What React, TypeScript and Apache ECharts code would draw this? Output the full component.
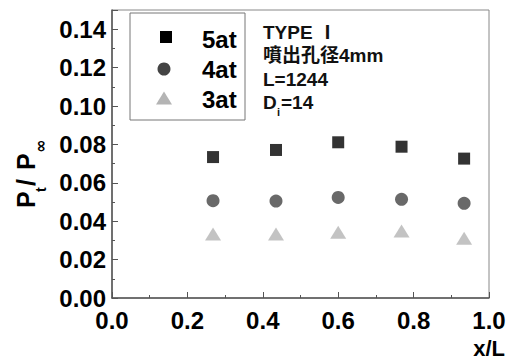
import React, { useEffect, useRef } from "react";
import * as echarts from "echarts";

const xPositions = [0.268, 0.435, 0.6, 0.768, 0.934];
const p5at = [0.0734, 0.0771, 0.0811, 0.0788, 0.0726];
const p4at = [0.0507, 0.0505, 0.0524, 0.0514, 0.0493];
const p3at = [0.0333, 0.0333, 0.0342, 0.0349, 0.0311];
const seriesNames = ["5at", "4at", "3at"];
const annotationLines = ["TYPE Ⅰ", "噴出孔径4mm", "L=1244"];
const annotationDi = "14";

const FONT = "'Liberation Sans', Arial, 'Noto Sans CJK JP', sans-serif";

export default function App() {
  const ref = useRef<HTMLDivElement>(null);
  useEffect(() => {
    if (!ref.current) return;
    const chart = echarts.init(ref.current, null, { renderer: "svg" });
    const pts = (ys: number[]) => xPositions.map((x, i) => [x, ys[i]]);
    const labelStyle = { color: "#000", fontSize: 24, fontWeight: "bold" as const, fontFamily: FONT };
    const ann = (text: string, x: number, y: number, size: number) => ({
      type: "text", x, y, z: 11,
      style: { text, fill: "#111", font: `bold ${size}px ${FONT}`, verticalAlign: "middle", align: "left", lineHeight: size },
    });
    chart.setOption({
      animation: false,
      backgroundColor: "#fff",
      grid: { left: 112, right: 26, top: 10, bottom: 62, show: true, borderColor: "#888", borderWidth: 1 },
      xAxis: {
        type: "value",
        min: 0,
        max: 1,
        interval: 0.2,
        axisLine: { show: true, lineStyle: { color: "#555", width: 1.5 } },
        axisTick: { show: true, inside: true, length: 6, lineStyle: { color: "#555" } },
        minorTick: { show: true, splitNumber: 2, length: 3, lineStyle: { color: "#555" } },
        splitLine: { show: false },
        axisLabel: { ...labelStyle, margin: 10, formatter: (v: number) => v.toFixed(1) },
      },
      yAxis: {
        type: "value",
        min: 0,
        max: 0.15,
        interval: 0.02,
        axisLine: { show: true, lineStyle: { color: "#555", width: 1.5 } },
        axisTick: { show: true, inside: true, length: 6, lineStyle: { color: "#555" } },
        minorTick: { show: true, splitNumber: 2, length: 3, lineStyle: { color: "#555" } },
        splitLine: { show: false },
        axisLabel: { ...labelStyle, margin: 6, showMaxLabel: false, formatter: (v: number) => v.toFixed(2) },
      },
      series: [
        { name: seriesNames[0], type: "scatter", symbol: "rect", symbolSize: 12, itemStyle: { color: "#000" }, data: pts(p5at) },
        { name: seriesNames[1], type: "scatter", symbol: "circle", symbolSize: 13, itemStyle: { color: "#444" }, data: pts(p4at) },
        { name: seriesNames[2], type: "scatter", symbol: "triangle", symbolSize: [16, 13], itemStyle: { color: "#b4b4b4" }, data: pts(p3at) },
      ],
      graphic: [
        { type: "rect", shape: { x: 130, y: 13, width: 115, height: 107 }, style: { fill: "#fff", stroke: "#777", lineWidth: 1 }, z: 10 },
        { type: "rect", shape: { x: 160, y: 31, width: 12, height: 12 }, style: { fill: "#000" }, z: 11 },
        { type: "circle", shape: { cx: 164, cy: 69, r: 6.5 }, style: { fill: "#444" }, z: 11 },
        { type: "polygon", shape: { points: [[164, 91.5], [172, 104.5], [156, 104.5]] }, style: { fill: "#b4b4b4" }, z: 11 },
        ...seriesNames.map((n, i) => ({
          type: "text", x: 202, y: [39, 69, 99][i], z: 11,
          style: { text: n, fill: "#000", font: `bold 24px ${FONT}`, verticalAlign: "middle", align: "left" },
        })),
        ...annotationLines.map((t, i) => ann(t, 263, 32 + i * 23.5, 19)),
        ann("D", 263, 102.5, 19),
        ann("i", 277, 112, 11),
        ann("=" + annotationDi, 281, 102.5, 19),
        {
          type: "group", x: 35, y: 208, rotation: Math.PI / 2, z: 11,
          children: [
            { type: "text", x: 0, y: -9, style: { text: "P", fill: "#000", font: `bold 25px ${FONT}`, verticalAlign: "middle", align: "left" } },
            { type: "text", x: 16, y: 6, style: { text: "t", fill: "#000", font: `bold 14px ${FONT}`, verticalAlign: "middle", align: "left" } },
            { type: "text", x: 22, y: -9, style: { text: "/", fill: "#000", font: `bold 25px ${FONT}`, verticalAlign: "middle", align: "left" } },
            { type: "text", x: 38, y: -9, style: { text: "P", fill: "#000", font: `bold 25px ${FONT}`, verticalAlign: "middle", align: "left" } },
            { type: "text", x: 55, y: 5, style: { text: "∞", fill: "#000", font: `bold 16px 'DejaVu Sans', ${FONT}`, verticalAlign: "middle", align: "left" } },
          ],
        },
        { type: "text", x: 505, y: 348, z: 11, style: { text: "x/L", fill: "#000", font: `bold 22px ${FONT}`, verticalAlign: "middle", align: "right" } },
      ],
    });
    return () => chart.dispose();
  }, []);
  return <div ref={ref} style={{ width: 515, height: 360, position: "absolute", left: 0, top: 0 }} />;
}
